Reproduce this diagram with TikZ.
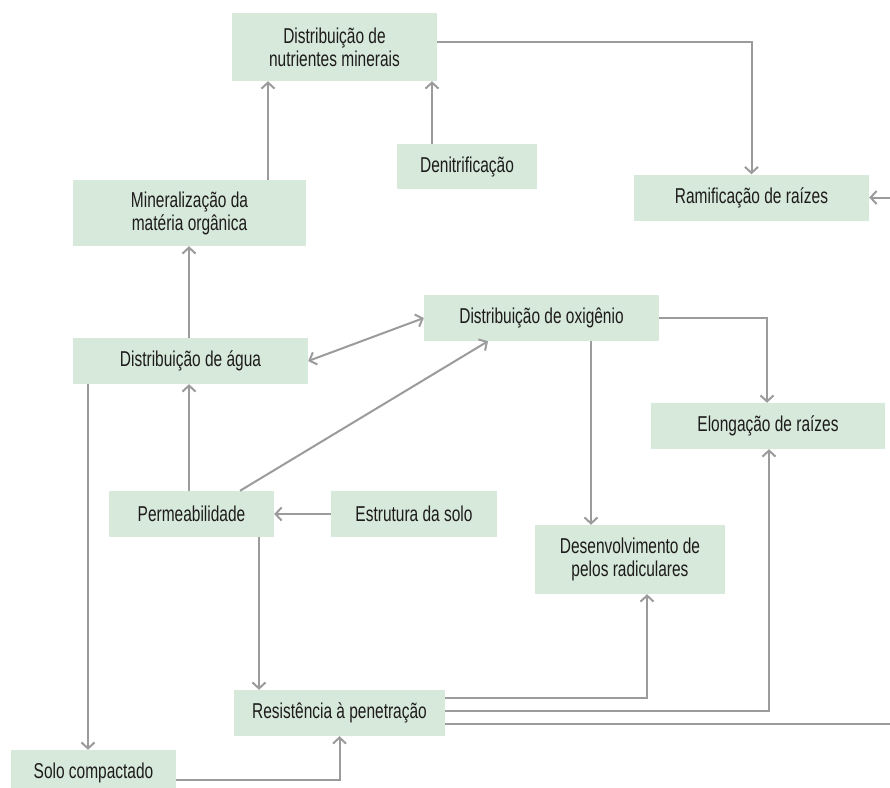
\documentclass[tikz,border=0pt]{standalone}
\usepackage{fontspec}
\setmainfont{Liberation Sans}[FakeStretch=0.72]
\usetikzlibrary{arrows.meta}
\definecolor{boxgreen}{RGB}{214,233,218}
\definecolor{linegray}{RGB}{155,155,155}
\definecolor{textdark}{RGB}{30,27,28}
\tikzset{
    x=1pt, y=-1pt,
    box/.style={fill=boxgreen, text=textdark, minimum height=46pt, inner sep=0pt,
        align=center, font=\fontsize{21.5}{23}\selectfont},
    link/.style={draw=linegray, line width=2pt, -{Straight Barb[length=6pt,width=13pt]}},
    both/.style={link, {Straight Barb[length=6pt,width=13pt]}-{Straight Barb[length=6pt,width=13pt]}},
}

\begin{document}
\begin{tikzpicture}
    \useasboundingbox (0,0) rectangle (890,787);

    \node[box, minimum width=205pt, minimum height=68pt] (nutr) at (334.5,47) {Distribuição de\\nutrientes minerais};
    \node[box, minimum width=233pt, minimum height=66pt] (miner) at (189.5,213) {Mineralização da\\matéria orgânica};
    \node[box, minimum width=140pt, minimum height=45pt] (denit) at (467,166.5) {Denitrificação};
    \node[box, minimum width=235pt] (ramif) at (751.5,197.5) {Ramificação de raízes};
    \node[box, minimum width=235pt] (oxig) at (541.5,318) {Distribuição de oxigênio};
    \node[box, minimum width=235pt] (agua) at (190.5,361) {Distribuição de água};
    \node[box, minimum width=234pt] (elong) at (768,426) {Elongação de raízes};
    \node[box, minimum width=165pt] (perm) at (191.5,514) {Permeabilidade};
    \node[box, minimum width=166pt] (estr) at (414,514) {Estrutura da solo};
    \node[box, minimum width=190pt, minimum height=69pt] (desenv) at (630,559.5) {Desenvolvimento de\\pelos radiculares};
    \node[box, minimum width=211pt] (resist) at (339.5,713) {Resistência à penetração};
    \node[box, minimum width=165pt] (solo) at (93.5,773) {Solo compactado};
    \coordinate (edge) at (890,0);

    \draw[link] ([yshift=5pt]nutr.east) -| (ramif.north);
    \draw[link] ([xshift=78.5pt]miner.north) -- ([xshift=-66.5pt]nutr.south);
    \draw[link] ([xshift=-35pt]denit.north) -- ([xshift=97.5pt]nutr.south);
    \draw[link] (ramif.east -| edge) -- (ramif.east);
    \draw[link] ([xshift=-1.5pt]agua.north) coordinate (a0) -- (a0 |- miner.south);
    \draw[both] (agua.east) -- (oxig.west);
    \draw[link] ([xshift=48.5pt]perm.north) -- ([xshift=-53.5pt]oxig.south);
    \draw[link] ([xshift=-2.5pt]perm.north) coordinate (p0) -- (p0 |- agua.south);
    \draw[link] (estr.west) -- (perm.east);
    \draw[link] ([xshift=67.5pt]perm.south) coordinate (p1) -- (p1 |- resist.north);
    \draw[link] ([xshift=-102.5pt]agua.south) coordinate (a1) -- (a1 |- solo.north);
    \draw[link] ([yshift=-7pt]solo.east) -| (resist.south);
    \draw[link] ([xshift=49.5pt]oxig.south) coordinate (o1) -- (o1 |- desenv.north);
    \draw[link] (oxig.east) -| ([xshift=-1pt]elong.north);
    \draw[link] ([yshift=15pt]resist.east) -| ([xshift=17pt]desenv.south);
    \draw[link] ([yshift=2pt]resist.east) -| ([xshift=1pt]elong.south);
    \draw[draw=linegray, line width=2pt] ([yshift=-11pt]resist.east) -- ([yshift=-11pt]resist.east -| edge);
\end{tikzpicture}
\end{document}
